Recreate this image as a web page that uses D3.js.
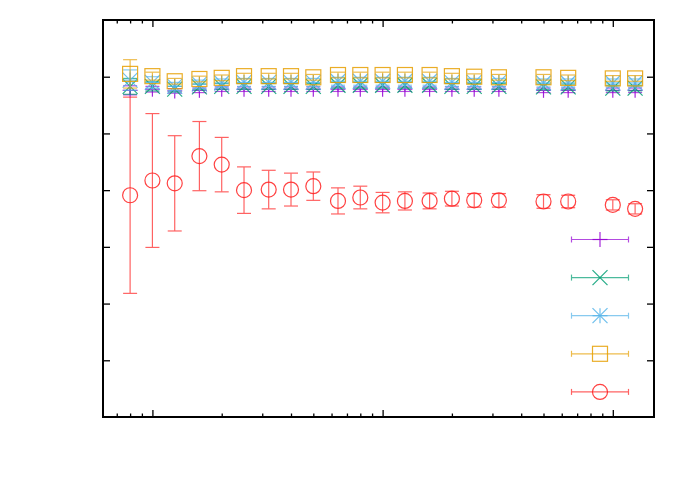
<!DOCTYPE html>
<html>
<head>
<meta charset="utf-8">
<script src="https://cdn.jsdelivr.net/npm/d3@7"></script>
<style>
  body { margin: 0; background: #fff; }
</style>
</head>
<body>
<script>
const xValues = [8, 10, 12.5, 16, 20, 25, 32, 40, 50, 64, 80, 100, 125, 160, 200, 250, 320, 500, 640, 1000, 1250]

const purpleY = [5.76, 5.78, 5.75, 5.76, 5.78, 5.78, 5.78, 5.78, 5.78, 5.78, 5.78, 5.78, 5.78, 5.78, 5.78, 5.78, 5.78, 5.76, 5.76, 5.76, 5.76]
const purpleErr = [0.08, 0.05, 0.04, 0.04, 0.04, 0.04, 0.04, 0.04, 0.04, 0.04, 0.04, 0.04, 0.04, 0.04, 0.04, 0.04, 0.04, 0.04, 0.04, 0.04, 0.04]
const greenY = [5.83, 5.83, 5.78, 5.82, 5.83, 5.83, 5.83, 5.83, 5.83, 5.85, 5.85, 5.85, 5.85, 5.85, 5.83, 5.83, 5.83, 5.82, 5.82, 5.80, 5.80]
const greenErr = [0.14, 0.08, 0.05, 0.05, 0.05, 0.05, 0.05, 0.05, 0.05, 0.05, 0.05, 0.05, 0.05, 0.05, 0.05, 0.05, 0.05, 0.05, 0.05, 0.05, 0.05]
const blueY = [5.94, 5.90, 5.83, 5.87, 5.89, 5.90, 5.90, 5.90, 5.90, 5.92, 5.92, 5.92, 5.92, 5.92, 5.90, 5.90, 5.90, 5.89, 5.89, 5.89, 5.89]
const blueErr = [0.18, 0.1, 0.07, 0.07, 0.07, 0.07, 0.07, 0.07, 0.07, 0.07, 0.07, 0.07, 0.07, 0.07, 0.07, 0.07, 0.07, 0.07, 0.07, 0.07, 0.07]
const orangeY = [6.05, 6.01, 5.92, 5.96, 5.98, 6.01, 6.01, 6.01, 5.99, 6.03, 6.03, 6.03, 6.03, 6.03, 6.01, 6.00, 5.99, 5.99, 5.98, 5.97, 5.97]
const orangeErr = [0.25, 0.07, 0.05, 0.05, 0.05, 0.05, 0.05, 0.05, 0.05, 0.05, 0.05, 0.05, 0.05, 0.05, 0.05, 0.05, 0.05, 0.05, 0.05, 0.05, 0.05]
const redY = [3.91, 4.17, 4.12, 4.60, 4.45, 4.00, 4.01, 4.01, 4.07, 3.81, 3.87, 3.78, 3.81, 3.81, 3.85, 3.82, 3.82, 3.80, 3.80, 3.74, 3.67]
const redErr = [1.73, 1.18, 0.84, 0.61, 0.48, 0.41, 0.34, 0.29, 0.25, 0.23, 0.20, 0.18, 0.16, 0.14, 0.13, 0.12, 0.12, 0.12, 0.11, 0.09, 0.09]

const xMajorTicks = [10, 100, 1000]
const xMinorTicks = [7, 8, 9, 20, 30, 40, 50, 60, 70, 80, 90, 200, 300, 400, 500, 600, 700, 800, 900]
const yTicks = [1, 2, 3, 4, 5, 6]

const series = [
  { y: purpleY, err: purpleErr, color: '#9400d3', symbol: 'plus' },
  { y: greenY, err: greenErr, color: '#009e73', symbol: 'cross' },
  { y: blueY, err: blueErr, color: '#56b4e9', symbol: 'star' },
  { y: orangeY, err: orangeErr, color: '#e69f00', symbol: 'square' },
  { y: redY, err: redErr, color: '#ff2020', symbol: 'circle' }
]

const width = 692
const height = 485
const margin = { top: 20, right: 38, bottom: 68, left: 103 }

const svg = d3.select('body')
  .append('svg')
  .attr('width', width)
  .attr('height', height)

const x = d3.scaleLog()
  .domain([6.1, 1510])
  .range([margin.left, width - margin.right])

const y = d3.scaleLinear()
  .domain([0, 7])
  .range([height - margin.bottom, margin.top])

// draws a gnuplot style point symbol centred at 0,0
const drawSymbol = (g, type, color) => {
  const s = 7.5
  const st = { stroke: color, 'stroke-width': 1.2, fill: 'none' }
  const line = (x1, y1, x2, y2) => {
    const l = g.append('line').attr('x1', x1).attr('y1', y1).attr('x2', x2).attr('y2', y2)
    Object.entries(st).forEach(([k, v]) => l.attr(k, v))
  }
  if (type === 'plus' || type === 'star') {
    line(-s, 0, s, 0)
    line(0, -s, 0, s)
  }
  if (type === 'cross' || type === 'star') {
    line(-s, -s, s, s)
    line(-s, s, s, -s)
  }
  if (type === 'square') {
    g.append('rect').attr('x', -s).attr('y', -s).attr('width', 2 * s).attr('height', 2 * s)
      .attr('stroke', color).attr('stroke-width', 1.2).attr('fill', 'none')
  }
  if (type === 'circle') {
    g.append('circle').attr('r', s)
      .attr('stroke', color).attr('stroke-width', 1.2).attr('fill', 'none')
  }
}

const plot = svg.append('g')

series.forEach(s => {
  const pts = xValues.map((xv, i) => ({ x: xv, y: s.y[i], e: s.err[i] }))
  const grp = plot.append('g')

  const bars = grp.selectAll('g.bar')
    .data(pts)
    .enter()
    .append('g')
    .attr('class', 'bar')
    .attr('stroke', s.color)
    .attr('stroke-width', 1.2)
    .attr('opacity', 0.7)

  bars.append('line')
    .attr('x1', d => x(d.x))
    .attr('x2', d => x(d.x))
    .attr('y1', d => y(d.y - d.e))
    .attr('y2', d => y(d.y + d.e))
  bars.append('line')
    .attr('x1', d => x(d.x) - 7)
    .attr('x2', d => x(d.x) + 7)
    .attr('y1', d => y(d.y - d.e))
    .attr('y2', d => y(d.y - d.e))
  bars.append('line')
    .attr('x1', d => x(d.x) - 7)
    .attr('x2', d => x(d.x) + 7)
    .attr('y1', d => y(d.y + d.e))
    .attr('y2', d => y(d.y + d.e))

  grp.selectAll('g.pt')
    .data(pts)
    .enter()
    .append('g')
    .attr('class', 'pt')
    .attr('opacity', 0.85)
    .attr('transform', d => `translate(${x(d.x)},${y(d.y)})`)
    .each(function () { drawSymbol(d3.select(this), s.symbol, s.color) })
})

// key, no titles
const key = svg.append('g')
series.forEach((s, i) => {
  const ky = 239.5 + i * 38.1
  const kg = key.append('g').attr('transform', `translate(0,${ky})`)
  const bar = kg.append('g').attr('stroke', s.color).attr('stroke-width', 1.2).attr('opacity', 0.7)
  bar.append('line').attr('x1', 571.5).attr('x2', 628.5).attr('y1', 0).attr('y2', 0)
  bar.append('line').attr('x1', 571.5).attr('x2', 571.5).attr('y1', -3).attr('y2', 3)
  bar.append('line').attr('x1', 628.5).attr('x2', 628.5).attr('y1', -3).attr('y2', 3)
  const sym = kg.append('g').attr('transform', 'translate(600,0)').attr('opacity', 0.85)
  drawSymbol(sym, s.symbol, s.color)
})

// inward ticks on all four sides
const bottom = height - margin.bottom
const right = width - margin.right
const addAxis = (axis, tx, ty) => {
  const g = svg.append('g')
    .attr('transform', `translate(${tx},${ty})`)
    .call(axis)
  g.select('.domain').remove()
  g.selectAll('line').attr('stroke', '#000').attr('stroke-width', 1.3)
}

addAxis(d3.axisBottom(x).tickValues(xMajorTicks).tickSize(-7).tickFormat(''), 0, bottom)
addAxis(d3.axisBottom(x).tickValues(xMinorTicks).tickSize(-3.5).tickFormat(''), 0, bottom)
addAxis(d3.axisTop(x).tickValues(xMajorTicks).tickSize(-7).tickFormat(''), 0, margin.top)
addAxis(d3.axisTop(x).tickValues(xMinorTicks).tickSize(-3.5).tickFormat(''), 0, margin.top)
addAxis(d3.axisLeft(y).tickValues(yTicks).tickSize(-7).tickFormat(''), margin.left, 0)
addAxis(d3.axisRight(y).tickValues(yTicks).tickSize(-7).tickFormat(''), right, 0)

svg.append('rect')
  .attr('x', margin.left)
  .attr('y', margin.top)
  .attr('width', right - margin.left)
  .attr('height', bottom - margin.top)
  .attr('fill', 'none')
  .attr('stroke', '#000')
  .attr('stroke-width', 2)
</script>
</body>
</html>
